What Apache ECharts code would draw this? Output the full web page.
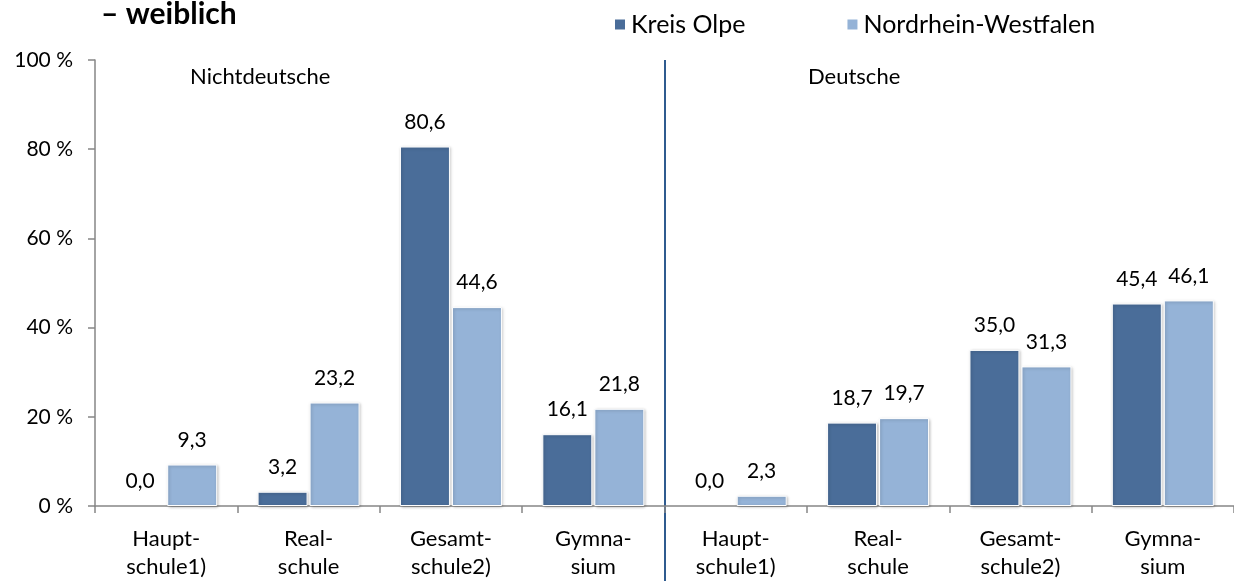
<!DOCTYPE html>
<html>
<head>
<meta charset="utf-8">
<script src="https://cdn.jsdelivr.net/npm/echarts@6/dist/echarts.min.js"></script>
<style>
  html, body { margin: 0; padding: 0; background: #fff; }
  #main { width: 1234px; height: 581px; }
</style>
</head>
<body>
<div id="main"></div>
<script>
var categories = ['Haupt-\nschule1)', 'Real-\nschule', 'Gesamt-\nschule2)', 'Gymna-\nsium',
  'Haupt-\nschule1)', 'Real-\nschule', 'Gesamt-\nschule2)', 'Gymna-\nsium'];
var kreisOlpe = [0.0, 3.2, 80.6, 16.1, 0.0, 18.7, 35.0, 45.4];
var nrw = [9.3, 23.2, 44.6, 21.8, 2.3, 19.7, 31.3, 46.1];
var yTicks = [0, 20, 40, 60, 80, 100];

var chart = echarts.init(document.getElementById('main'));
var fontFam = 'Lato, "Open Sans", sans-serif';

function fmt(p) {
  return p.value.toFixed(1).replace('.', ',');
}

// zero bars: keep the label, drop the border/shadow sliver
function toData(arr) {
  return arr.map(function (v) {
    if (v === 0) {
      return { value: v, itemStyle: { color: 'rgba(0,0,0,0)', borderWidth: 0, shadowColor: 'rgba(0,0,0,0)' } };
    }
    return v;
  });
}

var barStyle = function (color) {
  return {
    color: color,
    borderColor: '#fff',
    borderWidth: 1,
    shadowColor: 'rgba(0,0,0,0.25)',
    shadowBlur: 3,
    shadowOffsetX: 1,
    shadowOffsetY: 1
  };
};

var labelStyle = { show: true, position: 'top', distance: 14, fontSize: 21, color: '#000', formatter: fmt };

var option = {
  animation: false,
  textStyle: { fontFamily: fontFam },
  title: {
    text: '– weiblich',
    left: 96,
    top: -6,
    textStyle: { fontSize: 30, fontWeight: 'bold', color: '#000', fontFamily: fontFam }
  },
  legend: {
    left: 608,
    top: 7,
    itemWidth: 12,
    itemHeight: 12,
    itemGap: 100,
    icon: 'rect',
    textStyle: { fontSize: 25, color: '#000', fontFamily: fontFam },
    data: ['Kreis Olpe', 'Nordrhein-Westfalen']
  },
  grid: {
    left: 95,
    top: 60,
    width: 1144,
    bottom: 75,
    containLabel: false
  },
  xAxis: {
    type: 'category',
    data: categories,
    axisLine: { lineStyle: { color: '#868686', width: 1.5 } },
    axisTick: { show: true, length: 7, lineStyle: { color: '#868686', width: 1.5 } },
    axisLabel: { fontSize: 22, color: '#000', lineHeight: 28, margin: 19, interval: 0 }
  },
  yAxis: {
    type: 'value',
    min: 0,
    max: 100,
    interval: 20,
    axisLine: { show: true, lineStyle: { color: '#868686', width: 1.5 } },
    axisTick: { show: true, length: 7, lineStyle: { color: '#868686', width: 1.5 } },
    splitLine: { show: false },
    axisLabel: {
      fontSize: 21,
      color: '#000',
      margin: 22,
      formatter: function (v) { return yTicks.indexOf(v) >= 0 ? v + ' %' : ''; }
    }
  },
  graphic: [
    {
      type: 'line',
      shape: { x1: 665, y1: 60, x2: 665, y2: 581 },
      style: { stroke: '#2f5b8f', lineWidth: 2 }
    },
    {
      type: 'text',
      left: 190,
      top: 66,
      style: { text: 'Nichtdeutsche', fontSize: 22, fill: '#000', fontFamily: fontFam }
    },
    {
      type: 'text',
      left: 808,
      top: 66,
      style: { text: 'Deutsche', fontSize: 22, fill: '#000', fontFamily: fontFam }
    }
  ],
  series: [
    {
      name: 'Kreis Olpe',
      type: 'bar',
      data: toData(kreisOlpe),
      barWidth: 50,
      barGap: '4%',
      itemStyle: barStyle('#4a6d99'),
      label: labelStyle
    },
    {
      name: 'Nordrhein-Westfalen',
      type: 'bar',
      data: toData(nrw),
      barWidth: 50,
      barGap: '4%',
      itemStyle: barStyle('#95b3d7'),
      label: labelStyle
    }
  ]
};

chart.setOption(option);
</script>
</body>
</html>
